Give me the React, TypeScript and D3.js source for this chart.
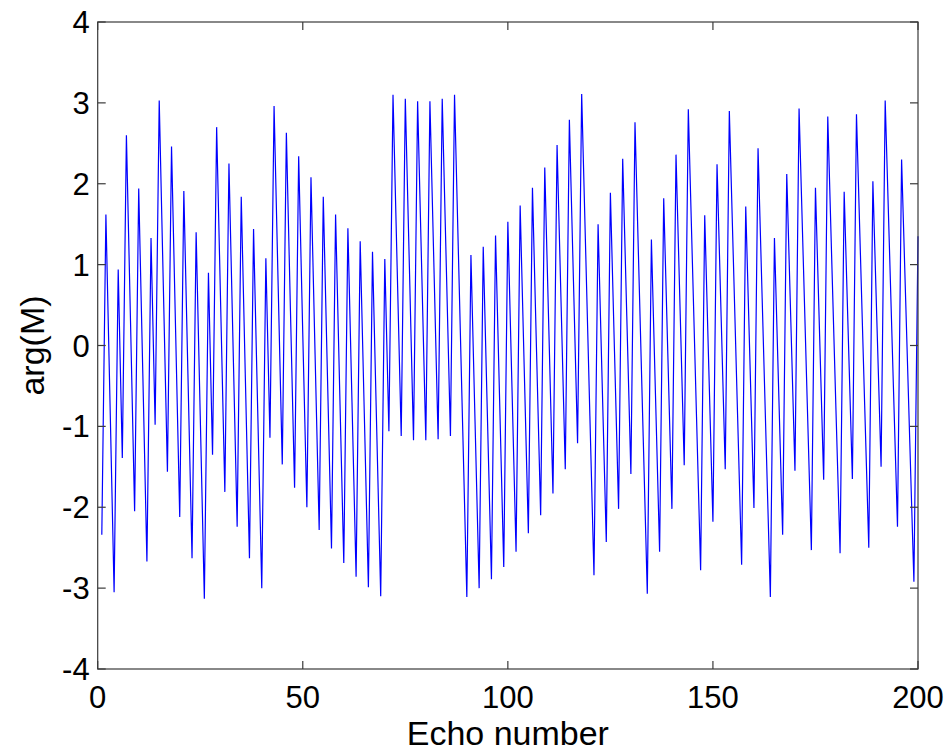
import React from "react";
import * as d3 from "d3";

const argValues: number[] = [
  -2.34, 1.62, -0.7, -3.05, 0.94, -1.39, 2.6, 0.3, -2.05, 1.94,
  -0.35, -2.67, 1.33, -0.98, 3.03, 0.74, -1.56, 2.46, 0.17, -2.12,
  1.91, -0.36, -2.63, 1.4, -0.87, -3.13, 0.9, -1.35, 2.7, 0.45,
  -1.81, 2.25, 0.0, -2.24, 1.84, -0.4, -2.63, 1.44, -0.78, -3.0,
  1.08, -1.14, 2.96, 0.74, -1.47, 2.63, 0.42, -1.76, 2.34, 0.14,
  -2.0, 2.08, -0.11, -2.28, 1.84, -0.34, -2.51, 1.62, -0.55, -2.69,
  1.45, -0.7, -2.86, 1.29, -0.84, -2.99, 1.16, -0.98, -3.1, 1.07,
  -1.06, 3.1, 0.99, -1.12, 3.05, 0.96, -1.17, 3.02, 0.93, -1.17,
  3.02, 0.93, -1.16, 3.05, 0.97, -1.12, 3.1, 1.03, -1.04, -3.11,
  1.12, -0.94, -3.0, 1.22, -0.84, -2.89, 1.36, -0.69, -2.74, 1.53,
  -0.51, -2.55, 1.73, -0.3, -2.32, 1.95, -0.08, -2.1, 2.2, 0.19,
  -1.83, 2.48, 0.48, -1.53, 2.79, 0.79, -1.21, 3.11, 1.12, -0.87,
  -2.84, 1.5, -0.47, -2.43, 1.89, -0.07, -2.02, 2.31, 0.36, -1.59,
  2.76, 0.81, -1.13, -3.07, 1.31, -0.62, -2.55, 1.82, -0.1, -2.02,
  2.36, 0.44, -1.48, 2.92, 1.02, -0.88, -2.78, 1.61, -0.29, -2.18,
  2.24, 0.36, -1.53, 2.9, 1.03, -0.84, -2.71, 1.72, -0.15, -2.01,
  2.44, 0.59, -1.26, -3.11, 1.33, -0.5, -2.34, 2.12, 0.29, -1.55,
  2.93, 1.11, -0.71, -2.53, 1.95, 0.15, -1.66, 2.83, 1.0, -0.8,
  -2.57, 1.9, 0.12, -1.65, 2.86, 1.06, -0.74, -2.5, 2.03, 0.25,
  -1.5, 3.03, 1.27, -0.5, -2.24, 2.3, 0.55, -1.2, -2.92, 1.35,
];

const xTicks: number[] = [0, 50, 100, 150, 200];
const yTicks: number[] = [-4, -3, -2, -1, 0, 1, 2, 3, 4];
const xLabel = "Echo number";
const yLabel = "arg(M)";

const W = 949;
const H = 752;
const left = 97.7;
const right = 918;
const top = 22;
const bottom = 669;

export default function App() {
  const x = d3.scaleLinear().domain([0, 200]).range([left, right]);
  const y = d3.scaleLinear().domain([-4, 4]).range([bottom, top]);
  const line = d3
    .line<number>()
    .x((_, i) => x(i + 1))
    .y((d) => y(d));
  const font = "'Liberation Sans', Arial, Helvetica, sans-serif";
  const axisColor = "#3a3a3a";
  const tickLen = 8;
  return (
    <svg
      width={W}
      height={H}
      style={{ position: "absolute", left: 0, top: 0, background: "#fff" }}
      fontFamily={font}
    >
      <rect x={0} y={0} width={W} height={H} fill="#fff" />
      <path d={line(argValues) || ""} fill="none" stroke="#0000ff" strokeWidth={1.2} />
      <rect
        x={left}
        y={top}
        width={right - left}
        height={bottom - top}
        fill="none"
        stroke={axisColor}
        strokeWidth={1.2}
      />
      {xTicks.map((t) => (
        <g key={"x" + t}>
          <line x1={x(t)} x2={x(t)} y1={bottom} y2={bottom - tickLen} stroke={axisColor} strokeWidth={1.2} />
          <line x1={x(t)} x2={x(t)} y1={top} y2={top + tickLen} stroke={axisColor} strokeWidth={1.2} />
          <text x={x(t)} y={bottom + 39} textAnchor="middle" fontSize={31} fill="#000">
            {t}
          </text>
        </g>
      ))}
      {yTicks.map((t) => (
        <g key={"y" + t}>
          <line x1={left} x2={left + tickLen} y1={y(t)} y2={y(t)} stroke={axisColor} strokeWidth={1.2} />
          <line x1={right} x2={right - tickLen} y1={y(t)} y2={y(t)} stroke={axisColor} strokeWidth={1.2} />
          <text x={left - 8} y={y(t) + 11} textAnchor="end" fontSize={31} fill="#000">
            {t}
          </text>
        </g>
      ))}
      <text x={(left + right) / 2} y={745} textAnchor="middle" fontSize={34} fill="#000">
        {xLabel}
      </text>
      <text
        transform={`translate(44, ${(top + bottom) / 2}) rotate(-90)`}
        textAnchor="middle"
        fontSize={34}
        fill="#000"
      >
        {yLabel}
      </text>
    </svg>
  );
}
